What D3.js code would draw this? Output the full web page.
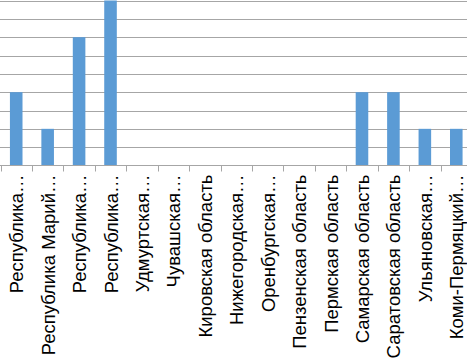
<!DOCTYPE html>
<html>
<head>
<meta charset="utf-8">
<script src="https://cdn.jsdelivr.net/npm/d3@7"></script>
<style>
  body { margin: 0; background: #fff; }
  svg { display: block; }
</style>
</head>
<body>
<svg id="chart" width="467" height="361"></svg>
<script>
var regions = ["Республика…", "Республика Марий…", "Республика…", "Республика…", "Удмуртская…",
  "Чувашская…", "Кировская область", "Нижегородская…", "Оренбургская…", "Пензенская область",
  "Пермская область", "Самарская область", "Саратовская область", "Ульяновская…", "Коми-Пермяцкий…"];
var counts = [4, 2, 7, 9, 0, 0, 0, 0, 0, 0, 0, 4, 4, 2, 2];
var yTicks = [0, 1, 2, 3, 4, 5, 6, 7, 8, 9];

var svg = d3.select("#chart");
var plotBottom = 165.5, plotTop = 0.5;
var plotLeft = 0.5, plotRight = 472;

// keys are indices, since several labels repeat
var x = d3.scaleBand().domain(d3.range(regions.length)).range([plotLeft, plotRight]).paddingInner(0.6).paddingOuter(0.3);
var y = d3.scaleLinear().domain([0, 9]).range([plotBottom, plotTop]);

svg.append("g").selectAll("line")
  .data(yTicks.slice(1))
  .enter().append("line")
  .attr("x1", 0).attr("x2", 467)
  .attr("y1", function(d) { return Math.round(y(d)) + 0.5; })
  .attr("y2", function(d) { return Math.round(y(d)) + 0.5; })
  .attr("stroke", "#a6a6a6").attr("stroke-width", 1);

svg.append("g").selectAll("rect")
  .data(counts)
  .enter().append("rect")
  .attr("x", function(d, i) { return x(i); })
  .attr("y", function(d) { return y(d); })
  .attr("width", x.bandwidth())
  .attr("height", function(d) { return y(0) - y(d); })
  .attr("fill", "#5b9bd5");

// category axis, ticks on band edges
var step = (plotRight - plotLeft) / regions.length;
var axis = svg.append("g");
axis.append("line")
  .attr("x1", 0).attr("x2", 467)
  .attr("y1", plotBottom).attr("y2", plotBottom)
  .attr("stroke", "#a6a6a6");
axis.selectAll(".tick")
  .data(d3.range(regions.length + 1))
  .enter().append("line")
  .attr("class", "tick")
  .attr("x1", function(i) { return Math.round(plotLeft + i * step) + 0.5; })
  .attr("x2", function(i) { return Math.round(plotLeft + i * step) + 0.5; })
  .attr("y1", plotBottom).attr("y2", plotBottom + 6)
  .attr("stroke", "#a6a6a6");

axis.selectAll("text")
  .data(regions)
  .enter().append("text")
  .attr("transform", function(d, i) {
    return "translate(" + (x(i) + x.bandwidth() / 2 + 7) + "," + (plotBottom + 9) + ") rotate(-90)";
  })
  .attr("text-anchor", "end")
  .attr("font-family", "Liberation Sans, Arial, sans-serif")
  .attr("font-size", "18.5px")
  .attr("fill", "#000")
  .text(function(d) { return d; });
</script>
</body>
</html>
